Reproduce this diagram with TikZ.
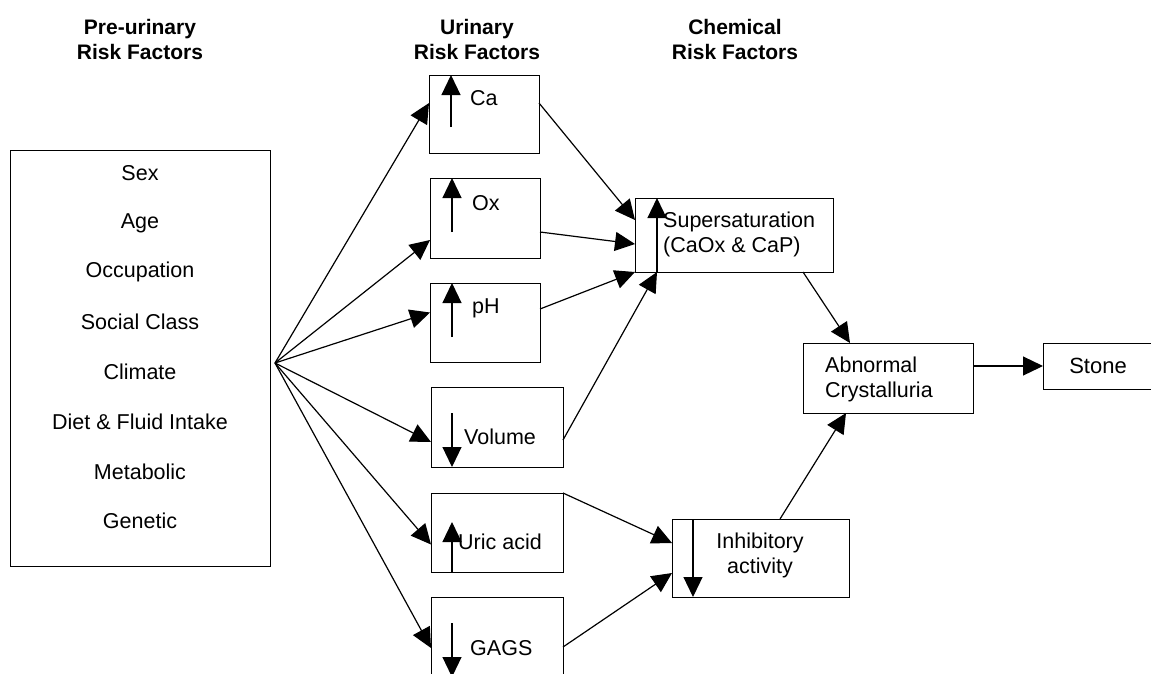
\documentclass[tikz,border=0pt]{standalone}
\usepackage{fontspec}
\setmainfont{Liberation Sans}
\usepackage{tikz}
\usetikzlibrary{calc}
\usetikzlibrary{arrows.meta}
\tikzset{
	boxstyle/.style={rectangle,draw=black,line width=1pt,fill=white,inner sep=0pt,outer sep=0pt},
	headstyle/.style={align=center,font=\fontsize{21}{25}\selectfont\bfseries},
	itemstyle/.style={inner sep=0pt},
	linkstyle/.style={line width=1.2pt,-{Triangle[length=20pt,width=19pt]}}
}

\begin{document}
\begin{tikzpicture}[x=1pt,y=-1pt]
		\fontsize{21.5}{25}\selectfont
		\useasboundingbox (0,0) rectangle (1151,673);
		\node[headstyle] (prehead) at (140,39.5) {Pre-urinary\\Risk Factors};
		\node[headstyle] (urihead) at (477,39.5) {Urinary\\Risk Factors};
		\node[headstyle] (chemhead) at (735,39.5) {Chemical\\Risk Factors};
		\node[boxstyle,minimum width=260pt,minimum height=416pt] (pre) at (140,358) {};
		\node[itemstyle] (sex) at (140,173) {Sex};
		\node[itemstyle] (age) at (140,223) {Age};
		\node[itemstyle] (occ) at (140,272) {Occupation};
		\node[itemstyle] (soc) at (140,322) {Social Class};
		\node[itemstyle] (clim) at (140,372) {Climate};
		\node[itemstyle] (diet) at (140,422) {Diet \& Fluid Intake};
		\node[itemstyle] (meta) at (140,472) {Metabolic};
		\node[itemstyle] (gen) at (140,521) {Genetic};
		\coordinate (fan) at (275,363);
		\node[boxstyle,minimum width=110pt,minimum height=78pt] (ca) at (484,114) {};
		\node[boxstyle,minimum width=110pt,minimum height=80pt] (ox) at (485,218) {};
		\node[boxstyle,minimum width=110pt,minimum height=79pt] (ph) at (485,322.5) {};
		\node[boxstyle,minimum width=132pt,minimum height=80pt] (vol) at (497,427) {};
		\node[boxstyle,minimum width=132pt,minimum height=79pt] (uric) at (497,532.5) {};
		\node[boxstyle,minimum width=132pt,minimum height=80pt] (gags) at (497,637) {};
		\node[boxstyle,minimum width=198pt,minimum height=74pt] (super) at (734,235) {};
		\node[boxstyle,minimum width=177pt,minimum height=78pt] (inhib) at (760.5,558) {};
		\node[boxstyle,minimum width=170pt,minimum height=70pt] (abn) at (888,378) {};
		\node[boxstyle,minimum width=110pt,minimum height=46pt] (stone) at (1098,366) {};
		\node[itemstyle,anchor=west] (catext) at (470,98) {Ca};
		\node[itemstyle,anchor=west] (oxtext) at (472,203) {Ox};
		\node[itemstyle,anchor=west] (phtext) at (472,308) {pH};
		\node[itemstyle,anchor=west] (voltext) at (464,437) {Volume};
		\node[itemstyle,anchor=west] (urictext) at (458,542) {Uric acid};
		\node[itemstyle,anchor=west] (gagstext) at (470,648) {GAGS};
		\node[itemstyle,anchor=west,align=left] (supertext) at (663,234.5) {Supersaturation\\(CaOx \& CaP)};
		\node[itemstyle,align=center] (inhibtext) at (760,555) {Inhibitory\\activity};
		\node[itemstyle,anchor=west,align=left] (abntext) at (825,379.5) {Abnormal\\Crystalluria};
		\node[itemstyle,font=\fontsize{22}{26}\selectfont] (stonetext) at (1098,366) {Stone};
		\draw[linkstyle] ([xshift=22pt,yshift=26pt]ca.south west) -- ([xshift=22pt]ca.north west);
		\draw[linkstyle] ([xshift=22pt,yshift=26pt]ox.south west) -- ([xshift=22pt]ox.north west);
		\draw[linkstyle] ([xshift=22pt,yshift=25pt]ph.south west) -- ([xshift=22pt]ph.north west);
		\draw[linkstyle] ([xshift=21pt,yshift=-26pt]vol.north west) -- ([xshift=21pt]vol.south west);
		\draw[linkstyle] ([xshift=21pt]uric.south west) -- ([xshift=21pt,yshift=-29pt]uric.north west);
		\draw[linkstyle] ([xshift=21pt,yshift=-26pt]gags.north west) -- ([xshift=21pt]gags.south west);
		\draw[linkstyle] ([xshift=22pt]super.south west) -- ([xshift=22pt]super.north west);
		\draw[linkstyle] ([xshift=21pt]inhib.north west) -- ([xshift=21pt]inhib.south west);
		\draw[linkstyle] (fan) -- ([yshift=11pt]ca.west);
		\draw[linkstyle] (fan) -- ([yshift=-22pt]ox.west);
		\draw[linkstyle] (fan) -- ([yshift=10pt]ph.west);
		\draw[linkstyle] (fan) -- ([yshift=-15pt]vol.west);
		\draw[linkstyle] (fan) -- ([yshift=-12pt]uric.west);
		\draw[linkstyle] (fan) -- ([yshift=-11pt]gags.west);
		\draw[linkstyle] ([yshift=11pt]ca.east) -- ([yshift=15pt]super.west);
		\draw[linkstyle] ([yshift=-14pt]ox.east) -- ([yshift=-9pt]super.west);
		\draw[linkstyle] ([yshift=13.5pt]ph.east) -- (super.south west);
		\draw[linkstyle] ([yshift=-13pt]vol.east) -- ([xshift=22pt]super.south west);
		\draw[linkstyle] (uric.north east) -- ([yshift=15pt]inhib.west);
		\draw[linkstyle] ([yshift=-10pt]gags.east) -- ([yshift=-15pt]inhib.west);
		\draw[linkstyle] ([xshift=69pt]super.south) -- ([xshift=-38pt]abn.north);
		\draw[linkstyle] ([xshift=19.5pt]inhib.north) -- ([xshift=-42pt]abn.south);
		\draw[linkstyle] (abn.east |- stone.west) -- (stone.west);
\end{tikzpicture}
\end{document}
